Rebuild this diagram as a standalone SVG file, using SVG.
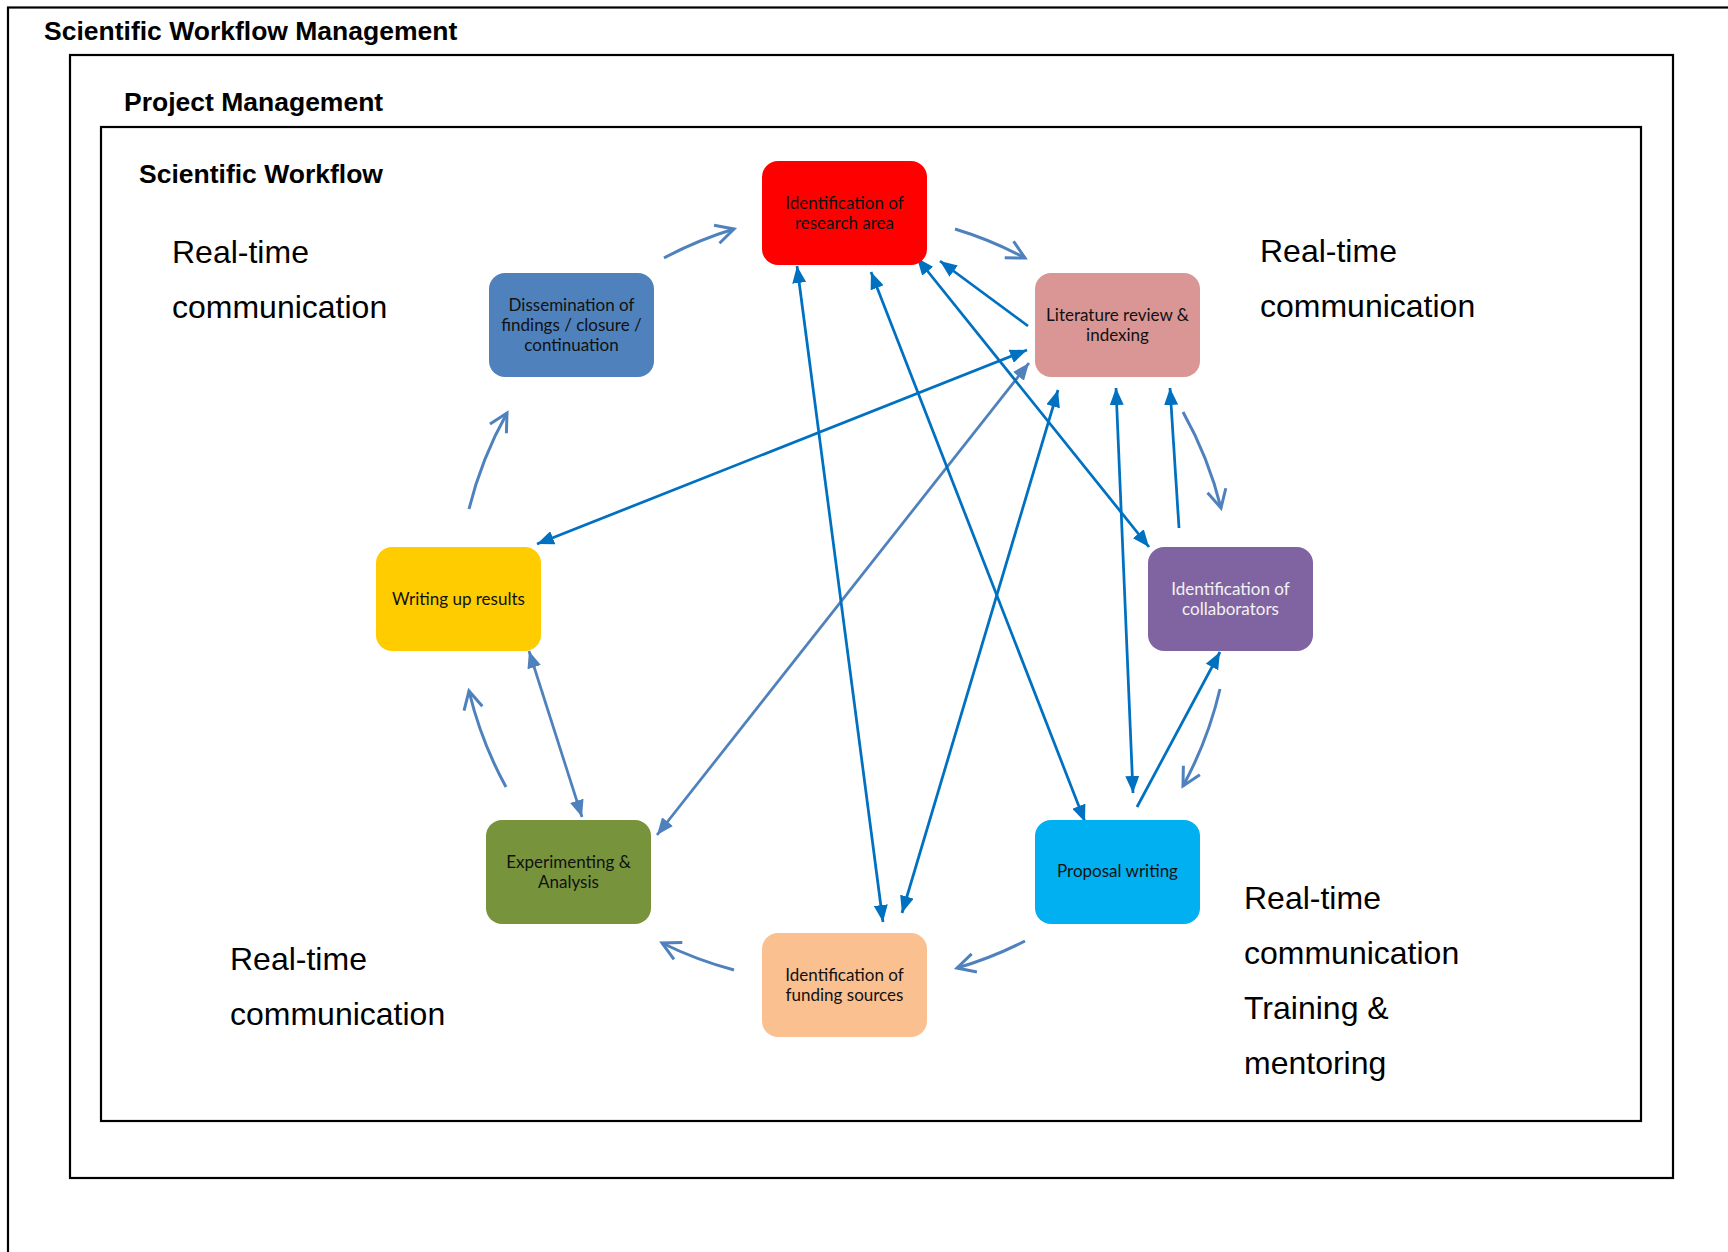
<svg xmlns="http://www.w3.org/2000/svg" width="1728" height="1252" viewBox="0 0 1728 1252">
  <style>
    .frame { fill: none; stroke: #000; stroke-width: 2.2; }
    .title { font-family: "Liberation Sans", Arial, sans-serif; font-weight: bold; font-size: 26.5px; fill: #000; }
    .note { font-family: "Liberation Sans", Arial, sans-serif; font-size: 32px; fill: #000; }
    .box { stroke: none; }
    .lbl { font-family: Lato, "Open Sans", sans-serif; font-size: 17px; fill: #111; text-anchor: middle; }
    .lbl.light { fill: #f2f2f2; }
    .link { fill: none; stroke: #0070C0; stroke-width: 2.75; marker-end: url(#head); }
    .link.both { marker-start: url(#head); }
    .link.soft { stroke: #4F81BD; marker-end: url(#headSoft); }
    .link.soft.both { marker-start: url(#headSoft); }
    .cycle { fill: none; stroke: #4F81BD; stroke-width: 3; marker-end: url(#vee); }
  </style>
  <defs>
    <marker id="head" viewBox="0 0 17 14" refX="17" refY="7" markerWidth="17" markerHeight="14" markerUnits="userSpaceOnUse" orient="auto-start-reverse">
      <path d="M0,0 L17,7 L0,14 z" fill="#0070C0"/>
    </marker>
    <marker id="headSoft" viewBox="0 0 17 14" refX="17" refY="7" markerWidth="17" markerHeight="14" markerUnits="userSpaceOnUse" orient="auto-start-reverse">
      <path d="M0,0 L17,7 L0,14 z" fill="#4F81BD"/>
    </marker>
    <marker id="vee" viewBox="0 0 24 24" refX="21" refY="12" markerWidth="24" markerHeight="24" markerUnits="userSpaceOnUse" orient="auto" overflow="visible">
      <path d="M3,2.6 L21,12 L3,21.4" fill="none" stroke="#4F81BD" stroke-width="3"/>
    </marker>
  </defs>

  <rect width="1728" height="1252" fill="#fff"/>

  <!-- nested frames -->
  <g id="frames">
    <rect class="frame" x="8" y="7.5" width="1900" height="1400" stroke-width="2.6"/>
    <rect class="frame" x="70" y="55" width="1603" height="1123"/>
    <rect class="frame" x="101" y="127" width="1540" height="994"/>
    <text class="title" x="44" y="40">Scientific Workflow Management</text>
    <text class="title" x="124" y="111">Project Management</text>
    <text class="title" x="139" y="183">Scientific Workflow</text>
  </g>

  <!-- side notes -->
  <g id="notes">
    <text class="note" x="172" y="263">Real-time</text>
    <text class="note" x="172" y="318">communication</text>
    <text class="note" x="1260" y="262">Real-time</text>
    <text class="note" x="1260" y="317">communication</text>
    <text class="note" x="230" y="970">Real-time</text>
    <text class="note" x="230" y="1025">communication</text>
    <text class="note" x="1244" y="909">Real-time</text>
    <text class="note" x="1244" y="964">communication</text>
    <text class="note" x="1244" y="1019">Training &amp;</text>
    <text class="note" x="1244" y="1074">mentoring</text>
  </g>

  <!-- connectors -->
  <g id="connectors">
    <!-- clockwise cycle around centre (844,599) -->
    <path class="cycle" d="M664,258 A386,386 0 0 1 734,229"/>
    <path class="cycle" d="M955,229 A386,386 0 0 1 1025,258"/>
    <path class="cycle" d="M1183,412 A386,386 0 0 1 1221,508"/>
    <path class="cycle" d="M1220,689 A386,386 0 0 1 1183,786"/>
    <path class="cycle" d="M1025,941 A386,386 0 0 1 957,968"/>
    <path class="cycle" d="M734,970 A386,386 0 0 1 662,943"/>
    <path class="cycle" d="M506,787 A386,386 0 0 1 469,691"/>
    <path class="cycle" d="M469,509 A386,386 0 0 1 507,413"/>

    <!-- cross links -->
    <line class="link both" x1="537" y1="544" x2="1027" y2="350"/>
    <line class="link soft both" x1="1029" y1="363" x2="657" y2="835"/>
    <line class="link both" x1="797" y1="266" x2="883" y2="922"/>
    <line class="link both" x1="871" y1="272" x2="1085" y2="822"/>
    <line class="link both" x1="917" y1="258" x2="1149" y2="547"/>
    <line class="link" x1="1028" y1="326" x2="940" y2="261"/>
    <line class="link both" x1="1058" y1="390" x2="902" y2="913"/>
    <line class="link both" x1="1116" y1="388" x2="1133" y2="793"/>
    <line class="link" x1="1179" y1="528" x2="1170" y2="388"/>
    <line class="link" x1="1137" y1="807" x2="1220" y2="652"/>
    <line class="link soft both" x1="529" y1="651" x2="582" y2="817"/>
  </g>

  <!-- nodes -->
  <g id="research-area">
    <rect class="box" x="762" y="161" width="165" height="104" rx="16" fill="#FF0000"/>
    <text class="lbl" x="844.5" y="209">Identification of</text>
    <text class="lbl" x="844.5" y="229">research area</text>
  </g>
  <g id="literature-review">
    <rect class="box" x="1035" y="273" width="165" height="104" rx="16" fill="#D99694"/>
    <text class="lbl" x="1117.5" y="321">Literature review &amp;</text>
    <text class="lbl" x="1117.5" y="341">indexing</text>
  </g>
  <g id="collaborators">
    <rect class="box" x="1148" y="547" width="165" height="104" rx="16" fill="#8064A2"/>
    <text class="lbl light" x="1230.5" y="595">Identification of</text>
    <text class="lbl light" x="1230.5" y="615">collaborators</text>
  </g>
  <g id="proposal-writing">
    <rect class="box" x="1035" y="820" width="165" height="104" rx="16" fill="#00B0F0"/>
    <text class="lbl" x="1117.5" y="877">Proposal writing</text>
  </g>
  <g id="funding-sources">
    <rect class="box" x="762" y="933" width="165" height="104" rx="16" fill="#FAC090"/>
    <text class="lbl" x="844.5" y="981">Identification of</text>
    <text class="lbl" x="844.5" y="1001">funding sources</text>
  </g>
  <g id="experimenting">
    <rect class="box" x="486" y="820" width="165" height="104" rx="16" fill="#77933C"/>
    <text class="lbl" x="568.5" y="868">Experimenting &amp;</text>
    <text class="lbl" x="568.5" y="888">Analysis</text>
  </g>
  <g id="writing-up">
    <rect class="box" x="376" y="547" width="165" height="104" rx="16" fill="#FFCC00"/>
    <text class="lbl" x="458.5" y="605">Writing up results</text>
  </g>
  <g id="dissemination">
    <rect class="box" x="489" y="273" width="165" height="104" rx="16" fill="#4F81BD"/>
    <text class="lbl" x="571.5" y="311">Dissemination of</text>
    <text class="lbl" x="571.5" y="331">findings / closure /</text>
    <text class="lbl" x="571.5" y="351">continuation</text>
  </g>
</svg>
